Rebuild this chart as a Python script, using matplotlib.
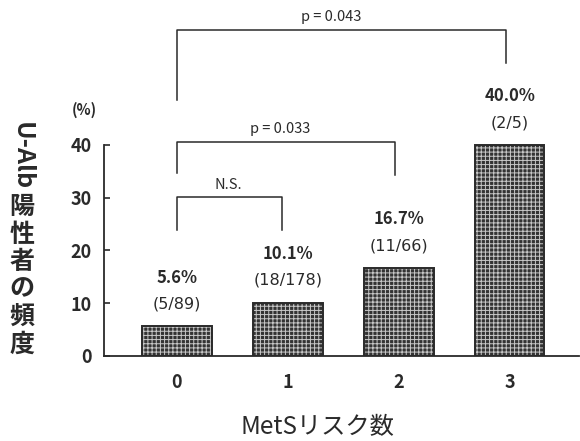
import matplotlib.pyplot as plt

plt.rcParams['font.family'] = ['Noto Sans CJK JP', 'DejaVu Sans']
plt.rcParams['hatch.linewidth'] = 0.7

# data
risk_counts = [0, 1, 2, 3]
tick_labels = ['0', '1', '2', '3']
positive_rate = [5.6, 10.1, 16.7, 40.0]
rate_labels = ['5.6%', '10.1%', '16.7%', '40.0%']
count_labels = ['(5/89)', '(18/178)', '(11/66)', '(2/5)']

# significance brackets: (left group, right group, text)
comparisons = [(0, 1, 'N.S.'), (0, 2, 'p = 0.033'), (0, 3, 'p = 0.043')]
bracket_tops = [30.1, 40.6, 61.8]
bracket_left_ends = [23.9, 34.7, 48.5]
bracket_right_ends = [23.9, 34.3, 55.5]

fig = plt.figure(figsize=(5.8, 4.41), dpi=100)
ax = fig.add_axes([0.179, 0.193, 0.82, 0.807])

ink = '#2a2a2a'
ax.bar(risk_counts, positive_rate, width=0.63, color='#333333',
       edgecolor='#c8c8c8', hatch='++++', linewidth=0)
ax.bar(risk_counts, positive_rate, width=0.63, fill=False,
       edgecolor=ink, linewidth=1.4)

for x, v, r, c in zip(risk_counts, positive_rate, rate_labels, count_labels):
    ax.annotate(c, (x, v), xytext=(0, 16), textcoords='offset points',
                ha='center', va='center', fontsize=11.5, color=ink,
                family='DejaVu Sans')
    ax.annotate(r, (x, v), xytext=(0, 35), textcoords='offset points',
                ha='center', va='center', fontsize=12, color=ink,
                fontweight='bold')

for (a, b, txt), top, le, re in zip(comparisons, bracket_tops,
                                    bracket_left_ends, bracket_right_ends):
    if b == 3:
        b_x = 2.97
    else:
        b_x = b - 0.03 if b == 2 else b - 0.05
    ax.plot([a, a, b_x, b_x], [le, top, top, re], color=ink, lw=1.1)
    ax.text((a + b_x) / 2 - 0.04 * b + 0.025, top + 2.4, txt, ha='center',
            va='center', fontsize=10.5, color=ink)

ax.set_xlim(-0.66, 3.63)
ax.set_ylim(0, 67.5)
ax.set_yticks([0, 10, 20, 30, 40])
ax.set_xticks(risk_counts)
ax.set_xticklabels(tick_labels)
ax.tick_params(axis='y', direction='in', length=4, width=1.2, pad=9,
               labelsize=13, colors=ink)
ax.tick_params(axis='x', length=0, pad=12, labelsize=13, colors=ink)
for lab in ax.get_yticklabels() + ax.get_xticklabels():
    lab.set_fontweight('bold')

for s in ['top', 'right']:
    ax.spines[s].set_visible(False)
ax.spines['left'].set_bounds(0, 40)
ax.spines['left'].set_linewidth(1.3)
ax.spines['bottom'].set_linewidth(1.3)
ax.spines['left'].set_color(ink)
ax.spines['bottom'].set_color(ink)

ax.text(-0.04, 46.6, '(%)', transform=ax.get_yaxis_transform(),
        ha='center', va='center', fontsize=10.5, color=ink, fontweight='bold')

# vertical y label
fig.text(22 / 580, 1 - 156 / 441, 'U-Alb', rotation=-90, ha='center',
         va='center', fontsize=18, color=ink, fontweight='bold')
fig.text(22 / 580, 1 - 276 / 441, '\n'.join('陽性者の頻度'), ha='center',
         va='center', fontsize=18, color=ink, linespacing=1.18,
         fontweight='bold')

fig.text(317 / 580, 1 - 427 / 441, 'MetSリスク数', ha='center', va='center',
         fontsize=17.5, color=ink)

fig.savefig('out.png', dpi=100)
